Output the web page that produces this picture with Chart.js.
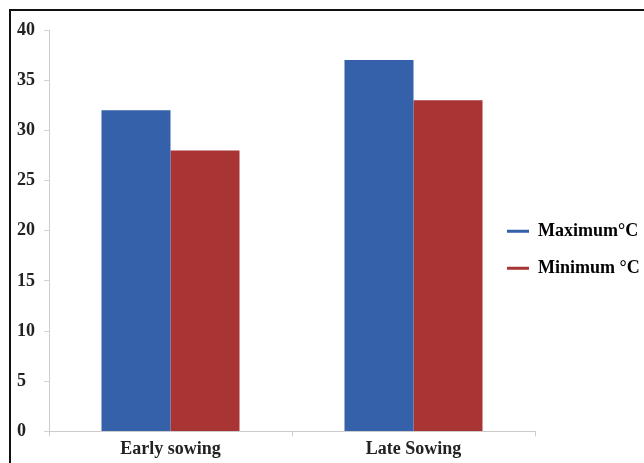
<!DOCTYPE html>
<html lang="en">
<head>
    <meta charset="UTF-8">
    <title>Sowing temperature</title>
    <script src="https://cdn.jsdelivr.net/npm/chart.js"></script>
    <style>
        body {
            margin: 0;
            background: #ffffff;
            overflow: hidden;
        }
        .frame {
            position: absolute;
            left: 9px;
            top: 9px;
            width: 700px;
            height: 500px;
            border-top: 2px solid #111;
            border-left: 2px solid #111;
        }
        #chart {
            position: absolute;
            left: 0;
            top: 0;
        }
    </style>
</head>
<body>
    <div class="frame"></div>
    <canvas id="chart" width="644" height="463"></canvas>
    <script>
        const categories = ['Early sowing', 'Late Sowing'];
        const maxTemp = [32, 37];
        const minTemp = [28, 33];
        const yTicks = [0, 5, 10, 15, 20, 25, 30, 35, 40];

        const font = { family: 'Liberation Serif', size: 18, weight: 'bold' };

        // legend sits to the right of the plot, slightly overlapping its edge
        const moveLegend = {
            id: 'moveLegend',
            afterLayout(chart) {
                const lg = chart.legend;
                const dx = 488 - lg.left;
                const dy = 49 - lg.top;
                lg.left += dx; lg.right += dx;
                lg.top += dy; lg.bottom += dy;
            }
        };

        new Chart(document.getElementById('chart').getContext('2d'), {
            type: 'bar',
            data: {
                labels: categories,
                datasets: [
                    { label: 'Maximum°C', data: maxTemp, backgroundColor: '#3461a9', borderColor: '#3461a9' },
                    { label: 'Minimum °C', data: minTemp, backgroundColor: '#a83533', borderColor: '#a83533' }
                ]
            },
            options: {
                responsive: false,
                animation: false,
                categoryPercentage: 0.568,
                barPercentage: 1,
                layout: { padding: { left: 17, top: 30, right: 109, bottom: 1 } },
                plugins: {
                    tooltip: { enabled: false },
                    legend: {
                        position: 'chartArea',
                        labels: {
                            usePointStyle: true,
                            pointStyle: 'line',
                            pointStyleWidth: 22,
                            color: '#222',
                            font: font,
                            padding: 19,
                            generateLabels(chart) {
                                return chart.data.datasets.map((ds, i) => ({
                                    text: ds.label,
                                    strokeStyle: ds.borderColor,
                                    fillStyle: ds.backgroundColor,
                                    lineWidth: 3,
                                    pointStyle: 'line',
                                    datasetIndex: i
                                }));
                            }
                        }
                    }
                },
                scales: {
                    x: {
                        grid: { drawOnChartArea: false, color: '#cccccc', tickLength: 5 },
                        border: { color: '#cccccc' },
                        ticks: { color: '#222', font: font, padding: 2 }
                    },
                    y: {
                        min: 0,
                        max: 40,
                        afterBuildTicks(axis) { axis.ticks = yTicks.map(v => ({ value: v })); },
                        grid: { drawOnChartArea: false, color: '#d4d4d4', tickLength: 5 },
                        border: { color: '#cccccc' },
                        ticks: { color: '#222', font: font, crossAlign: 'far', padding: 4.5 }
                    }
                }
            },
            plugins: [moveLegend]
        });
    </script>
</body>
</html>
